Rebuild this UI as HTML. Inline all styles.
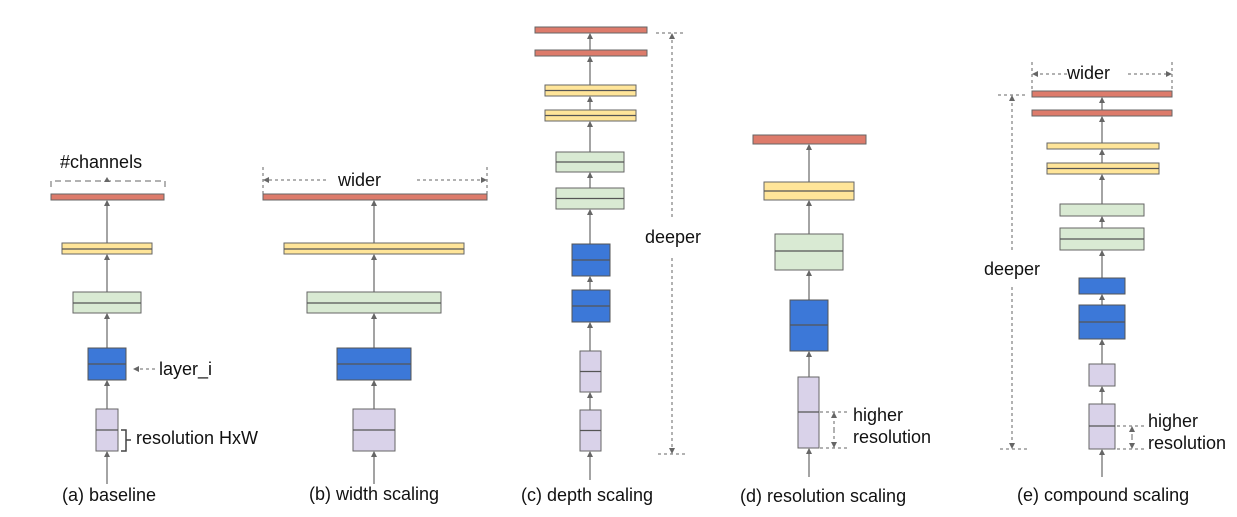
<!DOCTYPE html>
<html><head><meta charset="utf-8"><style>
html,body{margin:0;padding:0;background:#fff;}
svg{display:block;font-family:"Liberation Sans",Arial,sans-serif;}
.r{fill:#dd7b6b;stroke:#666;stroke-width:1}
.y{fill:#ffe599;stroke:#666;stroke-width:1}
.g{fill:#d9ead3;stroke:#666;stroke-width:1}
.b{fill:#3c78d8;stroke:#555;stroke-width:1}
.l{fill:#d9d2e9;stroke:#666;stroke-width:1}
.m{stroke:#555;stroke-width:1.2}
.a{stroke:#666;stroke-width:1.2;marker-end:url(#ah)}
.d{stroke:#666;stroke-width:1;stroke-dasharray:3,3;fill:none}
.da{stroke:#666;stroke-width:1;stroke-dasharray:3,3;fill:none;marker-end:url(#ah)}
text{font-size:18px;fill:#111}
</style></head><body>
<svg width="1237" height="517" viewBox="0 0 1237 517" xmlns="http://www.w3.org/2000/svg">
<defs><marker id="ah" markerWidth="6" markerHeight="6" refX="5" refY="3" orient="auto" markerUnits="userSpaceOnUse"><path d="M0,0 L6,3 L0,6 z" fill="#666"/></marker></defs>

<!-- (a) -->
<line class="a" x1="107" y1="484" x2="107" y2="452"/>
<line class="a" x1="107" y1="409" x2="107" y2="381"/>
<line class="a" x1="107" y1="348" x2="107" y2="314"/>
<line class="a" x1="107" y1="292" x2="107" y2="255"/>
<line class="a" x1="107" y1="243" x2="107" y2="201"/>
<rect class="r" x="51" y="194" width="113" height="6"/>
<rect class="y" x="62" y="243" width="90" height="11"/><line class="m" x1="62" y1="249" x2="152" y2="249"/>
<rect class="g" x="73" y="292" width="68" height="21"/><line class="m" x1="73" y1="303" x2="141" y2="303"/>
<rect class="b" x="88" y="348" width="38" height="32"/><line class="m" x1="88" y1="364" x2="126" y2="364"/>
<rect class="l" x="96" y="409" width="22" height="42"/><line class="m" x1="96" y1="430" x2="118" y2="430"/>
<path class="d" d="M51,187 V181 H165 V187" style="stroke-dasharray:6,4"/>
<path d="M104,182 L107,177 L110,182" fill="#666"/>
<text x="60" y="168">#channels</text>
<line class="da" x1="155" y1="369" x2="134" y2="369"/>
<text x="159" y="375">layer_i</text>
<path d="M121,430 H126 V451 H121 M126,440 H131" stroke="#444" stroke-width="1.5" fill="none"/>
<text x="136" y="444">resolution HxW</text>
<text x="62" y="501">(a) baseline</text>

<!-- (b) -->
<line class="a" x1="374" y1="484" x2="374" y2="452"/>
<line class="a" x1="374" y1="409" x2="374" y2="381"/>
<line class="a" x1="374" y1="348" x2="374" y2="314"/>
<line class="a" x1="374" y1="292" x2="374" y2="255"/>
<line class="a" x1="374" y1="243" x2="374" y2="201"/>
<rect class="r" x="263" y="194" width="224" height="6"/>
<rect class="y" x="284" y="243" width="180" height="11"/><line class="m" x1="284" y1="249" x2="464" y2="249"/>
<rect class="g" x="307" y="292" width="134" height="21"/><line class="m" x1="307" y1="303" x2="441" y2="303"/>
<rect class="b" x="337" y="348" width="74" height="32"/><line class="m" x1="337" y1="364" x2="411" y2="364"/>
<rect class="l" x="353" y="409" width="42" height="42"/><line class="m" x1="353" y1="430" x2="395" y2="430"/>
<line class="d" x1="263" y1="167" x2="263" y2="194"/><line class="d" x1="487" y1="167" x2="487" y2="194"/>
<line class="da" x1="326" y1="180" x2="264" y2="180"/><line class="da" x1="417" y1="180" x2="486" y2="180"/>
<text x="338" y="186">wider</text>
<text x="309" y="500">(b) width scaling</text>

<!-- (c) -->
<line class="a" x1="590" y1="480" x2="590" y2="452"/>
<line class="a" x1="590" y1="410" x2="590" y2="393"/>
<line class="a" x1="590" y1="351" x2="590" y2="323"/>
<line class="a" x1="590" y1="290" x2="590" y2="277"/>
<line class="a" x1="590" y1="244" x2="590" y2="210"/>
<line class="a" x1="590" y1="188" x2="590" y2="173"/>
<line class="a" x1="590" y1="152" x2="590" y2="122"/>
<line class="a" x1="590" y1="110" x2="590" y2="97"/>
<line class="a" x1="590" y1="85" x2="590" y2="57"/>
<line class="a" x1="590" y1="51" x2="590" y2="34"/>
<rect class="r" x="535" y="27" width="112" height="6"/>
<rect class="r" x="535" y="50" width="112" height="6"/>
<rect class="y" x="545" y="85" width="91" height="11"/><line class="m" x1="545" y1="90.5" x2="636" y2="90.5"/>
<rect class="y" x="545" y="110" width="91" height="11"/><line class="m" x1="545" y1="115.5" x2="636" y2="115.5"/>
<rect class="g" x="556" y="152" width="68" height="20"/><line class="m" x1="556" y1="162" x2="624" y2="162"/>
<rect class="g" x="556" y="188" width="68" height="21"/><line class="m" x1="556" y1="198.5" x2="624" y2="198.5"/>
<rect class="b" x="572" y="244" width="38" height="32"/><line class="m" x1="572" y1="260" x2="610" y2="260"/>
<rect class="b" x="572" y="290" width="38" height="32"/><line class="m" x1="572" y1="306" x2="610" y2="306"/>
<rect class="l" x="580" y="351" width="21" height="41"/><line class="m" x1="580" y1="371.5" x2="601" y2="371.5"/>
<rect class="l" x="580" y="410" width="21" height="41"/><line class="m" x1="580" y1="430.5" x2="601" y2="430.5"/>
<line class="d" x1="656" y1="33" x2="684" y2="33"/><line class="d" x1="658" y1="454" x2="685" y2="454"/>
<line class="da" x1="672" y1="217" x2="672" y2="34"/><line class="da" x1="672" y1="258" x2="672" y2="453"/>
<text x="645" y="243">deeper</text>
<text x="521" y="501">(c) depth scaling</text>

<!-- (d) -->
<line class="a" x1="809" y1="477" x2="809" y2="449"/>
<line class="a" x1="809" y1="377" x2="809" y2="352"/>
<line class="a" x1="809" y1="300" x2="809" y2="271"/>
<line class="a" x1="809" y1="234" x2="809" y2="201"/>
<line class="a" x1="809" y1="182" x2="809" y2="145"/>
<rect class="r" x="753" y="135" width="113" height="9"/>
<rect class="y" x="764" y="182" width="90" height="18"/><line class="m" x1="764" y1="191" x2="854" y2="191"/>
<rect class="g" x="775" y="234" width="68" height="36"/><line class="m" x1="775" y1="251" x2="843" y2="251"/>
<rect class="b" x="790" y="300" width="38" height="51"/><line class="m" x1="790" y1="325" x2="828" y2="325"/>
<rect class="l" x="798" y="377" width="21" height="71"/><line class="m" x1="798" y1="412" x2="819" y2="412"/>
<line class="d" x1="820" y1="412" x2="849" y2="412"/><line class="d" x1="820" y1="448" x2="849" y2="448"/>
<line class="da" x1="834" y1="430" x2="834" y2="413"/><line class="da" x1="834" y1="430" x2="834" y2="447"/>
<text x="853" y="421">higher</text>
<text x="853" y="443">resolution</text>
<text x="740" y="502">(d) resolution scaling</text>

<!-- (e) -->
<line class="a" x1="1102" y1="477" x2="1102" y2="450"/>
<line class="a" x1="1102" y1="404" x2="1102" y2="387"/>
<line class="a" x1="1102" y1="364" x2="1102" y2="340"/>
<line class="a" x1="1102" y1="305" x2="1102" y2="295"/>
<line class="a" x1="1102" y1="278" x2="1102" y2="251"/>
<line class="a" x1="1102" y1="228" x2="1102" y2="217"/>
<line class="a" x1="1102" y1="204" x2="1102" y2="175"/>
<line class="a" x1="1102" y1="163" x2="1102" y2="150"/>
<line class="a" x1="1102" y1="143" x2="1102" y2="117"/>
<line class="a" x1="1102" y1="110" x2="1102" y2="98"/>
<rect class="r" x="1032" y="91" width="140" height="6"/>
<rect class="r" x="1032" y="110" width="140" height="6"/>
<rect class="y" x="1047" y="143" width="112" height="6"/>
<rect class="y" x="1047" y="163" width="112" height="11"/><line class="m" x1="1047" y1="168.5" x2="1159" y2="168.5"/>
<rect class="g" x="1060" y="204" width="84" height="12"/>
<rect class="g" x="1060" y="228" width="84" height="22"/><line class="m" x1="1060" y1="239" x2="1144" y2="239"/>
<rect class="b" x="1079" y="278" width="46" height="16"/>
<rect class="b" x="1079" y="305" width="46" height="34"/><line class="m" x1="1079" y1="322" x2="1125" y2="322"/>
<rect class="l" x="1089" y="364" width="26" height="22"/>
<rect class="l" x="1089" y="404" width="26" height="45"/><line class="m" x1="1089" y1="426" x2="1115" y2="426"/>
<line class="d" x1="1032" y1="62" x2="1032" y2="89"/><line class="d" x1="1172" y1="62" x2="1172" y2="89"/>
<line class="da" x1="1067" y1="74" x2="1033" y2="74"/><line class="da" x1="1128" y1="74" x2="1171" y2="74"/>
<text x="1067" y="79">wider</text>
<line class="d" x1="998" y1="95" x2="1027" y2="95"/><line class="d" x1="1000" y1="449" x2="1027" y2="449"/>
<line class="da" x1="1012" y1="250" x2="1012" y2="96"/><line class="da" x1="1012" y1="287" x2="1012" y2="448"/>
<text x="984" y="275">deeper</text>
<line class="d" x1="1117" y1="426" x2="1146" y2="426"/><line class="d" x1="1117" y1="449" x2="1146" y2="449"/>
<line class="da" x1="1132" y1="437" x2="1132" y2="427"/><line class="da" x1="1132" y1="437" x2="1132" y2="448"/>
<text x="1148" y="427">higher</text>
<text x="1148" y="449">resolution</text>
<text x="1017" y="501">(e) compound scaling</text>
</svg>
</body></html>
